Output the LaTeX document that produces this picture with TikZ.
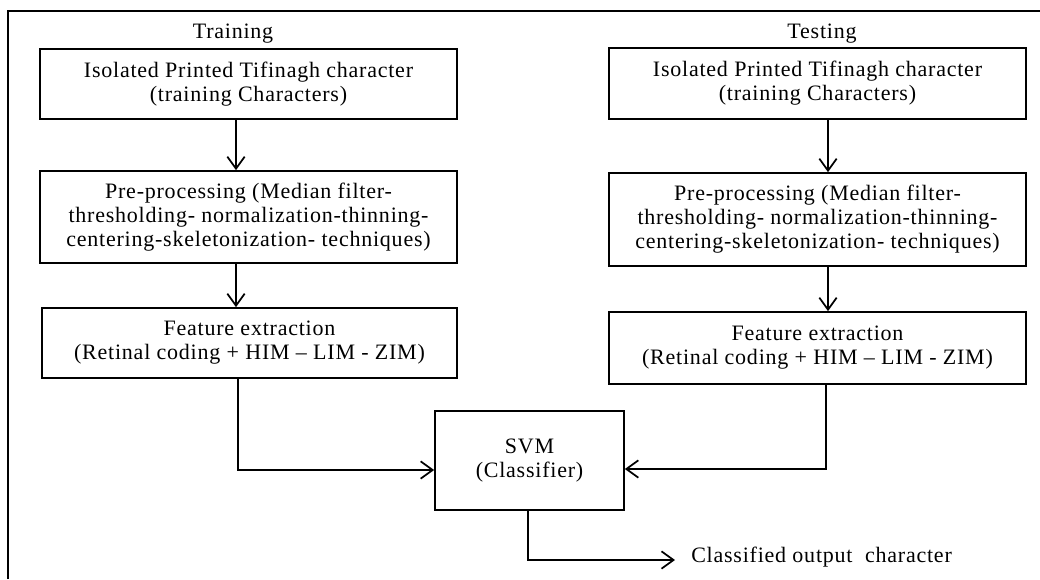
\documentclass[tikz,border=0pt]{standalone}
\usepackage{fontspec}
\setmainfont{Liberation Serif}[LetterSpace=3.5]
\usetikzlibrary{arrows.meta}
\begin{document}
\begin{tikzpicture}[x=0.75pt,y=-0.75pt,
  box/.style={draw, line width=1.3pt, align=center, inner sep=0pt,
    font=\fontsize{16.5}{18}\selectfont},
  lbl/.style={inner sep=0pt, font=\fontsize{16.5}{18}\selectfont},
  conn/.style={line width=1.3pt},
  arr/.style={conn, -{Straight Barb[length=9pt,width=13pt,line width=1.3pt]}}]
\useasboundingbox (0,0) rectangle (1040,579);
% outer frame (clipped at the right and bottom)
\draw[line width=1.3pt] (8,579) -- (8,11) -- (1040,11);

\node[lbl] (train) at (233,34) {Training};
\node[lbl] (test) at (822,34) {Testing};

% left column
\node[box, minimum width=312.75pt, minimum height=52.5pt] (l1) at (248.5,84)
  {Isolated Printed Tifinagh character\\(training Characters)};
\node[box, minimum width=312.75pt, minimum height=69pt] (l2) at (248.5,217)
  {Pre-processing (Median filter-\\thresholding- normalization-thinning-\\centering-skeletonization- techniques)};
\node[box, minimum width=311.25pt, minimum height=52.5pt] (l3) at (249.5,343)
  {Feature extraction\\(Retinal coding + HIM -- LIM - ZIM)};

% right column
\node[box, minimum width=312.75pt, minimum height=53.25pt] (r1) at (817.5,83.5)
  {Isolated Printed Tifinagh character\\(training Characters)};
\node[box, minimum width=312.75pt, minimum height=69.75pt] (r2) at (817.5,219.5)
  {Pre-processing (Median filter-\\thresholding- normalization-thinning-\\centering-skeletonization- techniques)};
\node[box, minimum width=312.75pt, minimum height=54pt] (r3) at (817.5,348)
  {Feature extraction\\(Retinal coding + HIM -- LIM - ZIM)};

% classifier
\node[box, minimum width=141.75pt, minimum height=74.25pt] (svm) at (529.5,460.5)
  {SVM\\(Classifier)};

\node[lbl, anchor=west, inner xsep=12pt] (out) at (675,557) {Classified output\ \ character};

% helper coordinates
\coordinate (cl) at (236,0);
\coordinate (cr) at (828,0);
\coordinate (jl) at (238,470);
\coordinate (jr) at (826,469);
\coordinate (jo) at (528,560);

\draw[arr] (l1.south -| cl) -- (l2.north -| cl);
\draw[arr] (l2.south -| cl) -- (l3.north -| cl);
\draw[arr] (r1.south -| cr) -- (r2.north -| cr);
\draw[arr] (r2.south -| cr) -- (r3.north -| cr);
\draw[arr] (l3.south -| jl) -- (jl) -- (jl -| svm.west);
\draw[arr] (r3.south -| jr) -- (jr) -- (jr -| svm.east);
\draw[arr] (svm.south -| jo) -- (jo) -- (out.west |- jo);
\end{tikzpicture}
\end{document}
